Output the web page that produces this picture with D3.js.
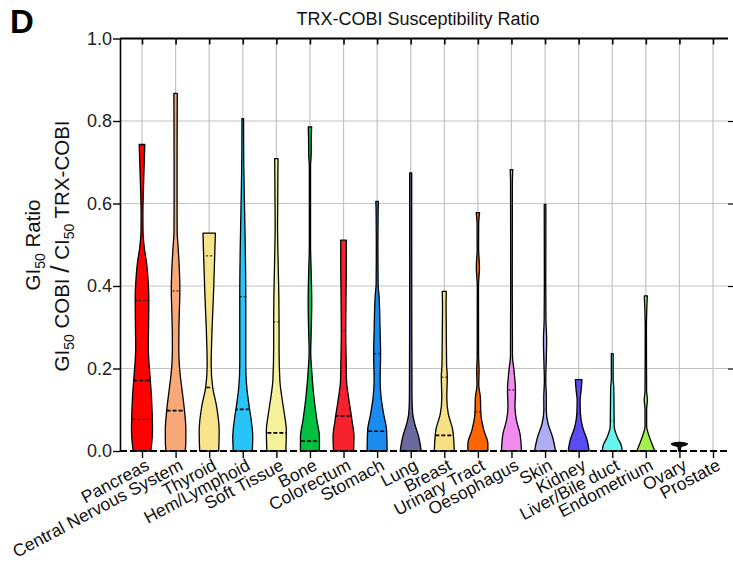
<!DOCTYPE html>
<html>
<head>
<meta charset="utf-8">
<script src="https://cdn.jsdelivr.net/npm/d3@7"></script>
<style>
  body { margin: 0; background: #fff; }
  svg { font-family: "Liberation Sans", Arial, sans-serif; }
</style>
</head>
<body>
<div id="okvir"></div>
<script>
// categories along x
const categories = ["Pancreas", "Central Nervous System", "Thyroid", "Hem/Lymphoid", "Soft Tissue",
  "Bone", "Colorectum", "Stomach", "Lung", "Breast", "Urinary Tract", "Oesophagus", "Skin",
  "Kidney", "Liver/Bile duct", "Endometrium", "Ovary", "Prostate"]

const fillColors = ["#ff0000", "#f9a877", "#f7e48a", "#28c4f8", "#f5f29c", "#00c040", "#f5222d",
  "#1a8cf0", "#6b6aa0", "#f5e084", "#ff6600", "#f08ced", "#aeaef5", "#5a4cf5", "#66f5ee",
  "#a6f04c", "#111111", "#888888"]

// violin outlines: [ratio, relative density]
const profiles = [
  [[0,8.8],[0.02,9.8],[0.05,10.5],[0.09,10.2],[0.131,9.5],[0.188,7.8],[0.22,6.8],[0.252,6.3],[0.29,6.5],[0.333,6.7],[0.37,6.8],[0.406,6.3],[0.454,4.7],[0.495,2.2],[0.535,1.0],[0.57,0.9],[0.616,1.2],[0.68,2.0],[0.743,2.8]],
  [[0,9.7],[0.02,10.2],[0.05,10.3],[0.1,8.8],[0.147,6.5],[0.18,4.8],[0.21,3.7],[0.25,3.2],[0.29,3.3],[0.333,3.7],[0.39,4.3],[0.454,3.5],[0.495,2.5],[0.53,1.6],[0.6,1.5],[0.7,1.5],[0.8,1.6],[0.867,1.7]],
  [[0,9.5],[0.02,9.8],[0.05,10],[0.107,7.5],[0.155,3.5],[0.21,2.0],[0.25,2.3],[0.29,2.8],[0.373,4.2],[0.47,5.5],[0.528,6.2]],
  [[0,9.5],[0.034,10],[0.074,8.5],[0.115,6],[0.155,4],[0.21,3],[0.29,3],[0.373,3],[0.495,2.5],[0.6,1.7],[0.697,1.0],[0.806,0.8]],
  [[0,9.5],[0.05,10],[0.09,8],[0.13,5.5],[0.171,3.5],[0.25,2.7],[0.313,2.7],[0.373,2.5],[0.454,1.8],[0.55,1.2],[0.709,1.7]],
  [[0,9.5],[0.034,9.5],[0.074,7],[0.131,4],[0.204,1.5],[0.24,0.8],[0.29,1.3],[0.36,1.8],[0.43,1.3],[0.5,0.6],[0.69,0.6],[0.72,1.3],[0.76,1.4],[0.786,1.7]],
  [[0,10],[0.034,10.5],[0.074,8.5],[0.13,5],[0.17,3],[0.21,2.7],[0.29,2.2],[0.373,2.5],[0.454,2.8],[0.511,2.8]],
  [[0,10],[0.05,9.5],[0.09,6.5],[0.13,4],[0.171,3],[0.236,3.5],[0.29,3],[0.373,2],[0.405,1],[0.5,0.8],[0.58,1],[0.605,1.3]],
  [[0,10.5],[0.034,8],[0.066,4],[0.09,2],[0.13,1.3],[0.3,1.1],[0.5,1.0],[0.674,1.0]],
  [[0,10],[0.05,8.5],[0.09,4],[0.13,2.5],[0.18,3],[0.21,2.3],[0.29,2],[0.35,1.8],[0.387,2]],
  [[0,10],[0.018,10],[0.05,6],[0.09,3],[0.13,2.5],[0.16,0.9],[0.195,1.2],[0.23,0.7],[0.4,0.6],[0.445,1.6],[0.49,0.7],[0.55,0.8],[0.578,1.7]],
  [[0,10],[0.042,8.5],[0.074,5],[0.107,3.5],[0.147,4],[0.196,2.5],[0.23,1],[0.4,0.8],[0.65,0.9],[0.682,1.3]],
  [[0,10.5],[0.034,7.5],[0.066,3],[0.1,1.2],[0.13,1.3],[0.17,0.7],[0.22,1.2],[0.27,1.6],[0.317,0.9],[0.4,0.7],[0.598,0.8]],
  [[0,10.5],[0.026,8.5],[0.058,4],[0.09,1.8],[0.123,1.5],[0.147,2.5],[0.173,3.3]],
  [[0,10],[0.014,9],[0.034,5],[0.06,2],[0.1,1.8],[0.155,1.5],[0.175,0.9],[0.236,0.9]],
  [[0,9],[0.018,6],[0.042,2.5],[0.06,0.8],[0.1,0.8],[0.125,1.6],[0.145,0.8],[0.3,0.6],[0.376,1.5]],
  [[0,0.8],[0.01,1.5],[0.015,7],[0.018,8],[0.021,1]],
  []
]

const medians = [0.171, 0.098, 0.154, 0.101, 0.044, 0.024, 0.085, 0.048, null, 0.038, null, null, null, null, null, null, null, null]
const lowerQuartiles = [0.077, null, null, null, null, null, null, null, null, null, null, null, null, null, null, null, null, null]
const upperQuartiles = [0.365, 0.388, 0.473, 0.374, 0.313, null, 0.292, 0.236, null, 0.179, 0.095, 0.148, 0.103, 0.09, 0.073, null, null, null]

const yTicks = [0, 0.2, 0.4, 0.6, 0.8, 1.0]

const dimenzije = { sirina: 733, visina: 565, lijevo: 120, desno: 728, vrh: 38.5, dno: 451 }

const svg = d3.select("#okvir").append("svg")
  .attr("width", dimenzije.sirina)
  .attr("height", dimenzije.visina)

const xSkala = d3.scalePoint().domain(categories).range([142, 713])
const ySkala = d3.scaleLinear().domain([0, 1]).range([dimenzije.dno, dimenzije.vrh])
const wSkala = d3.scaleLinear().domain([0, 10]).range([0, 10])

// grid
const grid = svg.append("g")
grid.selectAll("line.h").data(yTicks.filter(t => t > 0 && t < 1)).join("line")
  .attr("x1", dimenzije.lijevo).attr("x2", dimenzije.desno)
  .attr("y1", d => ySkala(d)).attr("y2", d => ySkala(d))
  .attr("stroke", "#c4c4c4").attr("stroke-width", 1.2)
grid.selectAll("line.v").data(categories).join("line")
  .attr("x1", d => xSkala(d)).attr("x2", d => xSkala(d))
  .attr("y1", dimenzije.vrh).attr("y2", dimenzije.dno)
  .attr("stroke", "#c4c4c4").attr("stroke-width", 1.2)

// violins
const defs = svg.append("defs")
const violini = svg.append("g")
categories.forEach((cat, i) => {
  const prof = profiles[i]
  if (!prof.length) return
  const cx = xSkala(cat)
  const area = d3.area()
    .x0(d => cx - wSkala(d[1]))
    .x1(d => cx + wSkala(d[1]))
    .y(d => ySkala(d[0]))
    .curve(d3.curveMonotoneY)
  defs.append("clipPath").attr("id", "clip" + i)
    .append("path").attr("d", area(prof))
  violini.append("path")
    .attr("d", area(prof))
    .attr("fill", fillColors[i])
    .attr("stroke", "#000")
    .attr("stroke-width", 1.3)
    .attr("stroke-linejoin", "round")
  const lines = [
    { v: medians[i], w: 1.6, dash: "4,2" },
    { v: lowerQuartiles[i], w: 1, dash: "3,2" },
    { v: upperQuartiles[i], w: 1, dash: "2,2" }
  ].filter(l => l.v != null)
  violini.append("g").attr("clip-path", `url(#clip${i})`)
    .selectAll("line").data(lines).join("line")
    .attr("x1", cx - 15).attr("x2", cx + 15)
    .attr("y1", d => ySkala(d.v)).attr("y2", d => ySkala(d.v))
    .attr("stroke", "#000")
    .attr("stroke-width", d => d.w)
    .attr("stroke-dasharray", d => d.dash)
})

// axes
const yOs = svg.append("g")
  .attr("transform", `translate(${dimenzije.lijevo},0)`)
  .call(d3.axisLeft(ySkala).tickValues(yTicks).tickFormat(d3.format(".1f")).tickSize(7).tickSizeOuter(0))
yOs.select(".domain").attr("stroke-width", 1.6)
yOs.selectAll(".tick line").attr("stroke-width", 1.4)
yOs.selectAll("text").attr("font-size", 18).attr("font-family", "Liberation Sans, Arial").attr("fill", "#222").attr("x", -8)

const xOs = svg.append("g")
  .attr("transform", `translate(0,${dimenzije.dno})`)
  .call(d3.axisBottom(xSkala).tickSize(7).tickSizeOuter(0))
xOs.select(".domain")
  .attr("d", `M${dimenzije.lijevo},0H${dimenzije.desno}`)
  .attr("stroke-width", 2.2).attr("stroke-dasharray", "7,3")
xOs.selectAll(".tick line").attr("stroke-width", 1.4)
xOs.selectAll("text")
  .attr("font-size", 17.5).attr("font-family", "Liberation Sans, Arial").attr("fill", "#111")
  .attr("text-anchor", "end")
  .attr("x", 0).attr("y", 0).attr("dy", 0)
  .attr("transform", "translate(8,18) rotate(-28)")

const topOs = svg.append("g")
  .attr("transform", `translate(0,${dimenzije.vrh})`)
  .call(d3.axisBottom(xSkala).tickSize(6).tickSizeOuter(0).tickFormat(""))
topOs.select(".domain").attr("d", `M${dimenzije.lijevo},0H${dimenzije.desno}`).attr("stroke-width", 2)
topOs.selectAll(".tick line").attr("stroke-width", 1.6)

const rightOs = svg.append("g")
  .attr("transform", `translate(${dimenzije.desno},0)`)
  .call(d3.axisRight(ySkala).tickValues(yTicks.filter(t => t > 0 && t < 1)).tickSize(5).tickFormat(""))
rightOs.select(".domain").remove()
rightOs.selectAll(".tick line").attr("stroke-width", 1.2)

// titles
svg.append("text").attr("x", 10).attr("y", 33)
  .attr("font-size", 33).attr("font-weight", "bold").text("D")

svg.append("text").attr("x", 418).attr("y", 25)
  .attr("text-anchor", "middle").attr("font-size", 18).attr("fill", "#111")
  .text("TRX-COBI Susceptibility Ratio")

const yNaslov1 = svg.append("text")
  .attr("transform", "translate(40,245) rotate(-90)")
  .attr("text-anchor", "middle").attr("font-size", 20.5).attr("fill", "#111")
yNaslov1.append("tspan").text("GI")
yNaslov1.append("tspan").attr("font-size", 14).attr("dy", 5).text("50")
yNaslov1.append("tspan").attr("dy", -5).text(" Ratio")

const yNaslov2 = svg.append("text")
  .attr("transform", "translate(69,246) rotate(-90)")
  .attr("text-anchor", "middle").attr("font-size", 20.5).attr("fill", "#111")
yNaslov2.append("tspan").text("GI")
yNaslov2.append("tspan").attr("font-size", 14).attr("dy", 5).text("50")
yNaslov2.append("tspan").attr("dy", -5).text(" COBI ")
yNaslov2.append("tspan").attr("font-size", 26).text("/")
yNaslov2.append("tspan").text(" CI")
yNaslov2.append("tspan").attr("font-size", 14).attr("dy", 5).text("50")
yNaslov2.append("tspan").attr("dy", -5).text(" TRX-COBI")
</script>
</body>
</html>
